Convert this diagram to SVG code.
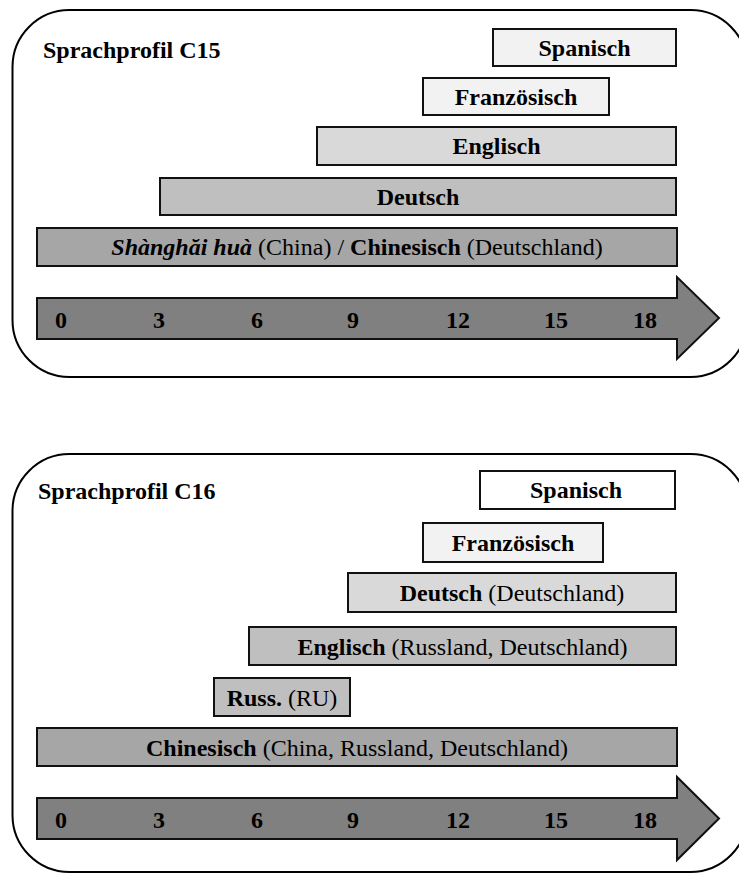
<svg xmlns="http://www.w3.org/2000/svg" width="739" height="873" viewBox="0 0 739 873">
<style>
.panel{fill:#fff;stroke:#000;stroke-width:2}
.bar{stroke:#111;stroke-width:2}
.arrow{fill:#808080;stroke:#111;stroke-width:2;stroke-linejoin:miter}
text{font-family:"Liberation Serif","Times New Roman",serif;font-size:24px;fill:#000}
.t{text-anchor:middle}
.b{font-weight:bold}
.bi{font-weight:bold;font-style:italic}
.n{font-weight:bold;text-anchor:middle}
.w{fill:#ffffff}.l1{fill:#f2f2f2}.l2{fill:#d9d9d9}.l3{fill:#bfbfbf}.l4{fill:#a6a6a6}
</style>
<g id="panel-c15">
<rect class="panel" x="12.5" y="10" width="735" height="367" rx="57" ry="57"/>
<text class="b" x="43" y="58">Sprachprofil C15</text>
</g>
<g id="c15-spanisch"><rect class="bar l1" x="493" y="29" width="183" height="37"/><text class="t b" x="584.5" y="56">Spanisch</text></g>
<g id="c15-franz"><rect class="bar l1" x="423" y="78" width="186" height="37"/><text class="t b" x="516" y="105">Französisch</text></g>
<g id="c15-englisch"><rect class="bar l2" x="317" y="127" width="359" height="38"/><text class="t b" x="496.5" y="154">Englisch</text></g>
<g id="c15-deutsch"><rect class="bar l3" x="160" y="178" width="516" height="37"/><text class="t b" x="418" y="205">Deutsch</text></g>
<g id="c15-chinesisch"><rect class="bar l4" x="37" y="228" width="640" height="38"/><text class="t" x="357" y="255"><tspan class="bi">Shànghăi huà</tspan> (China) / <tspan class="b">Chinesisch</tspan> (Deutschland)</text></g>
<g id="c15-axis">
<path class="arrow" d="M37,298 H677 V277 L719,318 L677,359 V339 H37 Z"/>
<text class="n" x="61" y="328">0</text><text class="n" x="159" y="328">3</text><text class="n" x="257" y="328">6</text><text class="n" x="353" y="328">9</text><text class="n" x="458" y="328">12</text><text class="n" x="556" y="328">15</text><text class="n" x="645" y="328">18</text>
</g>
<g id="panel-c16">
<rect class="panel" x="12.5" y="454" width="735" height="418" rx="57" ry="57"/>
<text class="b" x="38" y="499">Sprachprofil C16</text>
</g>
<g id="c16-spanisch"><rect class="bar w" x="480" y="471" width="195" height="38"/><text class="t b" x="576" y="498">Spanisch</text></g>
<g id="c16-franz"><rect class="bar l1" x="423" y="523" width="180" height="39"/><text class="t b" x="513" y="551">Französisch</text></g>
<g id="c16-deutsch"><rect class="bar l2" x="348" y="573" width="328" height="39"/><text class="t" x="512" y="601"><tspan class="b">Deutsch</tspan> (Deutschland)</text></g>
<g id="c16-englisch"><rect class="bar l3" x="249" y="627" width="427" height="38"/><text class="t" x="462.5" y="655"><tspan class="b">Englisch</tspan> (Russland,  Deutschland)</text></g>
<g id="c16-russ"><rect class="bar l3" x="214" y="678" width="136" height="38"/><text class="t" x="282" y="706"><tspan class="b">Russ.</tspan> (RU)</text></g>
<g id="c16-chinesisch"><rect class="bar l4" x="37" y="728" width="640" height="38"/><text class="t" x="357" y="756"><tspan class="b">Chinesisch</tspan> (China, Russland, Deutschland)</text></g>
<g id="c16-axis">
<path class="arrow" d="M37,798 H677 V777 L719,818.5 L677,860 V839 H37 Z"/>
<text class="n" x="61" y="828">0</text><text class="n" x="159" y="828">3</text><text class="n" x="257" y="828">6</text><text class="n" x="353" y="828">9</text><text class="n" x="458" y="828">12</text><text class="n" x="556" y="828">15</text><text class="n" x="645" y="828">18</text>
</g>
<g id="connectors"/>
</svg>
